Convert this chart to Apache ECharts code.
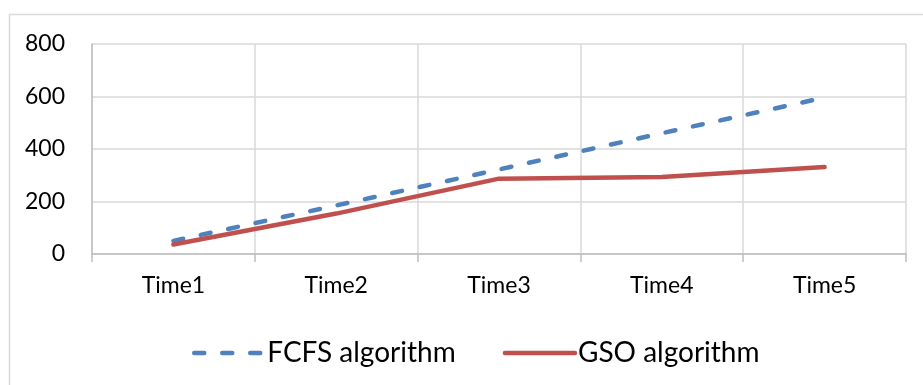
<!DOCTYPE html>
<html>
<head>
<meta charset="utf-8">
<script src="https://cdn.jsdelivr.net/npm/echarts@6/dist/echarts.min.js"></script>
<style>
html,body{margin:0;padding:0;background:#fff;}
#chart{width:923px;height:385px;}
</style>
</head>
<body>
<div id="chart"></div>
<script>
const categories = ['Time1', 'Time2', 'Time3', 'Time4', 'Time5'];
const fcfsValues = [50, 185, 322, 460, 596];
const gsoValues = [36, 154, 287, 293, 331];
const yTicks = { min: 0, max: 800, interval: 200 };
const seriesNames = ['FCFS algorithm', 'GSO algorithm'];

const FONT = 'Lato, "Open Sans", sans-serif';
const chart = echarts.init(document.getElementById('chart'), null, { renderer: 'canvas' });
chart.setOption({
  animation: false,
  backgroundColor: '#fff',
  graphic: [{
    type: 'rect',
    shape: { x: 9.5, y: 14.5, width: 1000, height: 500 },
    style: { fill: 'none', stroke: '#d9d9d9', lineWidth: 1.5 },
    silent: true, z: -1
  }],
  grid: { left: 92, right: 17, top: 44, bottom: 131, containLabel: false },
  legend: {
    left: 187, top: 334,
    itemWidth: 70, itemHeight: 14, itemGap: 47,
    itemStyle: { color: 'transparent', borderColor: 'transparent', borderWidth: 0 },
    lineStyle: { width: 4.5 },
    textStyle: { fontFamily: FONT, fontSize: 28, color: '#000', padding: [0, 0, 0, -2] },
    data: seriesNames
  },
  xAxis: {
    type: 'category',
    data: categories,
    boundaryGap: true,
    axisLine: { show: true, lineStyle: { color: '#bfbfbf', width: 1.5 } },
    axisTick: { show: true, length: 8, lineStyle: { color: '#bfbfbf', width: 1.5 } },
    axisLabel: { fontFamily: FONT, fontSize: 23, color: '#000', margin: 20 },
    splitLine: { show: true, lineStyle: { color: '#d9d9d9', width: 1.5 } }
  },
  yAxis: {
    type: 'value',
    min: yTicks.min, max: yTicks.max, interval: yTicks.interval,
    axisLine: { show: true, lineStyle: { color: '#bfbfbf', width: 1.5 } },
    axisTick: { show: false },
    axisLabel: { fontFamily: FONT, fontSize: 23, color: '#000', margin: 27 },
    splitLine: { show: true, lineStyle: { color: '#d9d9d9', width: 1.5 } }
  },
  series: [
    {
      name: seriesNames[0], type: 'line', data: fcfsValues,
      symbol: 'none',
      lineStyle: { color: '#4F81BD', width: 4.5, type: [10, 18], cap: 'round' },
      itemStyle: { color: '#4F81BD' }
    },
    {
      name: seriesNames[1], type: 'line', data: gsoValues,
      symbol: 'none',
      lineStyle: { color: '#C0504D', width: 4.5, type: 'solid', cap: 'round' },
      itemStyle: { color: '#C0504D' }
    }
  ]
});
</script>
</body>
</html>
